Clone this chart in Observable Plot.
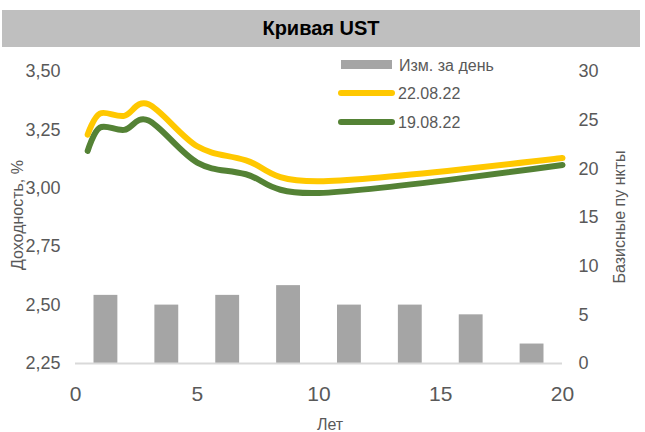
<!DOCTYPE html>
<html><head><meta charset="utf-8">
<script src="https://cdn.jsdelivr.net/npm/d3@7"></script>
<script src="https://cdn.jsdelivr.net/npm/@observablehq/plot@0.6"></script>
<style>
body{margin:0;background:#fff;}
#wrap{position:relative;width:645px;height:432px;font-family:"Liberation Sans",Arial,sans-serif;overflow:hidden;}
#band{position:absolute;left:2px;top:10px;width:638px;height:37px;background:#bfbfbf;z-index:2;}
#title{position:absolute;left:0;top:0;width:100%;height:37px;line-height:37px;text-align:center;font-weight:bold;font-size:20px;color:#000;}
#chart{position:absolute;left:0;top:0;z-index:1;}
#over{position:absolute;left:0;top:0;z-index:3;}
</style></head>
<body>
<div id="wrap">
  <div id="chart"></div>
  <div id="band"><div id="title">Кривая UST</div></div>
  <svg id="over" width="645" height="432" font-family="Liberation Sans, Arial, sans-serif"></svg>
</div>
<script>
// Data
const tenors = [0.5, 1, 2, 3, 5, 7, 10, 20];
const yield220822 = [3.23, 3.32, 3.31, 3.36, 3.18, 3.12, 3.03, 3.13];
const yield190822 = [3.16, 3.26, 3.25, 3.29, 3.11, 3.06, 2.98, 3.10];
const barCategories = ["6M", "1Y", "2Y", "3Y", "5Y", "7Y", "10Y", "20Y"];
const barValues = [7, 6, 7, 8, 6, 6, 5, 2];
const leftTicks = [2.25, 2.5, 2.75, 3.0, 3.25, 3.5];
const rightTicks = [0, 5, 10, 15, 20, 25, 30];
const xTicks = [0, 5, 10, 15, 20];
const seriesNames = ["22.08.22", "19.08.22"];
const barName = "Изм. за день";

const yMin = 2.25, yMax = 3.5, rMax = 30, xMax = 20;
const toLeft = v => yMin + v * (yMax - yMin) / rMax;
const fromLeft = d => Math.round((d - yMin) * rMax / (yMax - yMin));

const band = xMax / barCategories.length;
const bars = barCategories.map((c, i) => ({c, center: (i + 0.5) * band, v: barValues[i]}));
const lineY = tenors.map((t, i) => ({x: t, y: yield220822[i]}));
const lineG = tenors.map((t, i) => ({x: t, y: yield190822[i]}));

const gray = "#595959";
const font = "Liberation Sans, Arial, sans-serif";

const plot = Plot.plot({
  width: 645, height: 432,
  marginLeft: 75, marginRight: 83, marginTop: 71, marginBottom: 69,
  style: {fontFamily: font, background: "transparent", overflow: "visible"},
  x: {domain: [0, xMax]},
  y: {domain: [yMin, yMax]},
  marks: [
    Plot.rectY(bars, {x1: d => d.center - 0.49, x2: d => d.center + 0.49, y1: yMin, y2: d => toLeft(d.v), fill: "#a5a5a5"}),
    Plot.ruleY([yMin], {stroke: "#d9d9d9", strokeWidth: 2}),
    Plot.line(lineG, {x: "x", y: "y", stroke: "#548235", strokeWidth: 6, curve: "cardinal", tension: 0, strokeLinecap: "round"}),
    Plot.line(lineY, {x: "x", y: "y", stroke: "#ffc800", strokeWidth: 6, curve: "cardinal", tension: 0, strokeLinecap: "round"}),
    Plot.axisX(xTicks, {tickSize: 0, tickPadding: 23, fontSize: 21, fill: gray, label: null, tickFormat: d => String(d)}),
    Plot.axisY(leftTicks, {anchor: "left", tickSize: 0, tickPadding: 15, fontSize: 18, fill: gray, label: null, tickFormat: d => d.toFixed(2).replace(".", ",")}),
    Plot.axisY(rightTicks.map(toLeft), {anchor: "right", tickSize: 0, tickPadding: 16, fontSize: 18, fill: gray, label: null, tickFormat: d => String(fromLeft(d))})
  ]
});
document.getElementById("chart").appendChild(plot);

// Overlay: axis titles and legend
const svg = d3.select("#over");
svg.append("text").attr("x", 330).attr("y", 430).attr("text-anchor", "middle").attr("font-size", 16).attr("fill", gray).text("Лет");
svg.append("text").attr("transform", "translate(23,215) rotate(-90)").attr("text-anchor", "middle").attr("font-size", 16).attr("fill", gray).text("Доходность, %");
svg.append("text").attr("transform", "translate(625,217) rotate(-90)").attr("text-anchor", "middle").attr("font-size", 16).attr("fill", gray).text("Базисные  пу нкты");

const lg = svg.append("g");
lg.append("rect").attr("x", 341).attr("y", 60).attr("width", 51).attr("height", 9).attr("fill", "#a5a5a5");
lg.append("text").attr("x", 399).attr("y", 71).attr("font-size", 16).attr("fill", gray).text(barName);
const legendColors = ["#ffc800", "#548235"];
seriesNames.forEach((n, i) => {
  const y = 93 + i * 29;
  lg.append("line").attr("x1", 341).attr("x2", 392).attr("y1", y).attr("y2", y).attr("stroke", legendColors[i]).attr("stroke-width", 6).attr("stroke-linecap", "round");
  lg.append("text").attr("x", 398).attr("y", y + 6).attr("font-size", 16).attr("fill", gray).text(n);
});
</script>
</body></html>
